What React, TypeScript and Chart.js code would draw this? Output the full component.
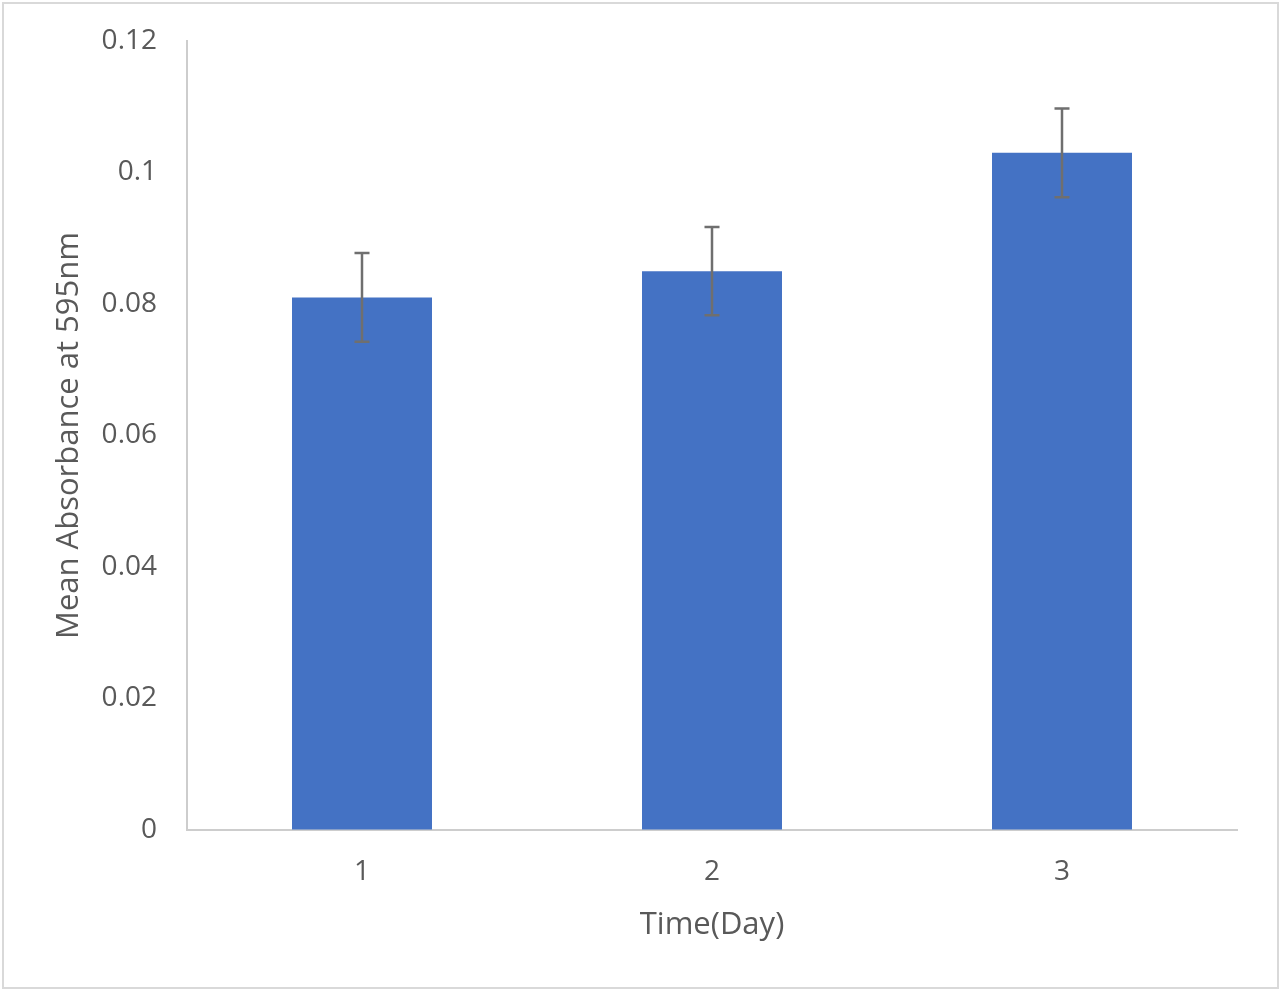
import { useEffect, useRef } from 'react';
import Chart from 'chart.js/auto';

const days = ['1', '2', '3'];
const meanAbsorbance = [0.081, 0.085, 0.103];
const stdError = [0.00675, 0.0067, 0.00675];

const TEXT = '#595959';
const AXIS = '#cdcdcd';
const FONT = '"Open Sans", "Noto Sans", sans-serif';

// draws the vertical error bars with small caps on top of each bar
const errorBars = {
  id: 'errorBars',
  afterDatasetsDraw(chart: any) {
    const { ctx, scales } = chart;
    const meta = chart.getDatasetMeta(0);
    ctx.save();
    ctx.strokeStyle = '#6f6f6f';
    ctx.lineWidth = 2.5;
    meta.data.forEach((bar: any, i: number) => {
      const x = bar.x;
      const top = scales.y.getPixelForValue(meanAbsorbance[i] + stdError[i]);
      const bottom = scales.y.getPixelForValue(meanAbsorbance[i] - stdError[i]);
      ctx.beginPath();
      ctx.moveTo(x, top);
      ctx.lineTo(x, bottom);
      ctx.moveTo(x - 7.5, top);
      ctx.lineTo(x + 7.5, top);
      ctx.moveTo(x - 7.5, bottom);
      ctx.lineTo(x + 7.5, bottom);
      ctx.stroke();
    });
    ctx.restore();
  },
};

const AbsorbanceChart = () => {
  const chartRef = useRef<HTMLCanvasElement>(null);

  useEffect(() => {
    if (!chartRef.current) return;
    const ctx = chartRef.current.getContext('2d');
    if (!ctx) return;

    const chart = new Chart(ctx, {
      type: 'bar',
      data: {
        labels: days,
        datasets: [{
          data: meanAbsorbance,
          backgroundColor: '#4472C4',
          borderWidth: 0,
          barPercentage: 0.4,
          categoryPercentage: 1,
        }],
      },
      options: {
        responsive: false,
        animation: false,
        layout: { padding: { top: 41, right: 43, bottom: 0, left: 0 } },
        plugins: {
          legend: { display: false },
          tooltip: { enabled: false },
        },
        scales: {
          x: {
            grid: { display: true, drawOnChartArea: false, drawTicks: false },
            border: { display: true, color: AXIS, width: 2 },
            ticks: { color: TEXT, padding: 25, font: { family: FONT, size: 28 } },
            title: {
              display: true,
              text: 'Time(Day)',
              color: TEXT,
              padding: { top: 0, bottom: 47 },
              font: { family: FONT, size: 31 },
            },
            afterFit: (scale: any) => { scale.height = 161; },
          },
          y: {
            min: 0,
            max: 0.12,
            grid: { display: true, drawOnChartArea: false, drawTicks: false },
            border: { display: true, color: AXIS, width: 2 },
            ticks: {
              stepSize: 0.02,
              color: TEXT,
              padding: 30,
              font: { family: FONT, size: 28 },
              callback: (v: any) => String(Math.round(Number(v) * 100) / 100),
            },
            title: {
              display: true,
              text: 'Mean Absorbance at 595nm',
              color: TEXT,
              padding: { top: 51, bottom: 0 },
              font: { family: FONT, size: 31 },
            },
            afterFit: (scale: any) => {
              scale.width = 187;
              scale.paddingTop = 0;
              scale.paddingBottom = 0;
            },
          },
        },
      },
      plugins: [errorBars],
    });

    return () => {
      chart.destroy();
    };
  }, []);

  return <canvas ref={chartRef} width={1280} height={991} style={{ display: 'block' }} />;
};

export default function App() {
  useEffect(() => {
    document.body.style.margin = '0';
  }, []);

  return (
    <div style={{ position: 'relative', width: 1280, height: 991, background: '#fff' }}>
      <AbsorbanceChart />
      <div
        style={{
          position: 'absolute',
          left: 2,
          top: 2,
          width: 1273,
          height: 983,
          border: '2px solid #d9d9d9',
          pointerEvents: 'none',
        }}
      />
    </div>
  );
}
